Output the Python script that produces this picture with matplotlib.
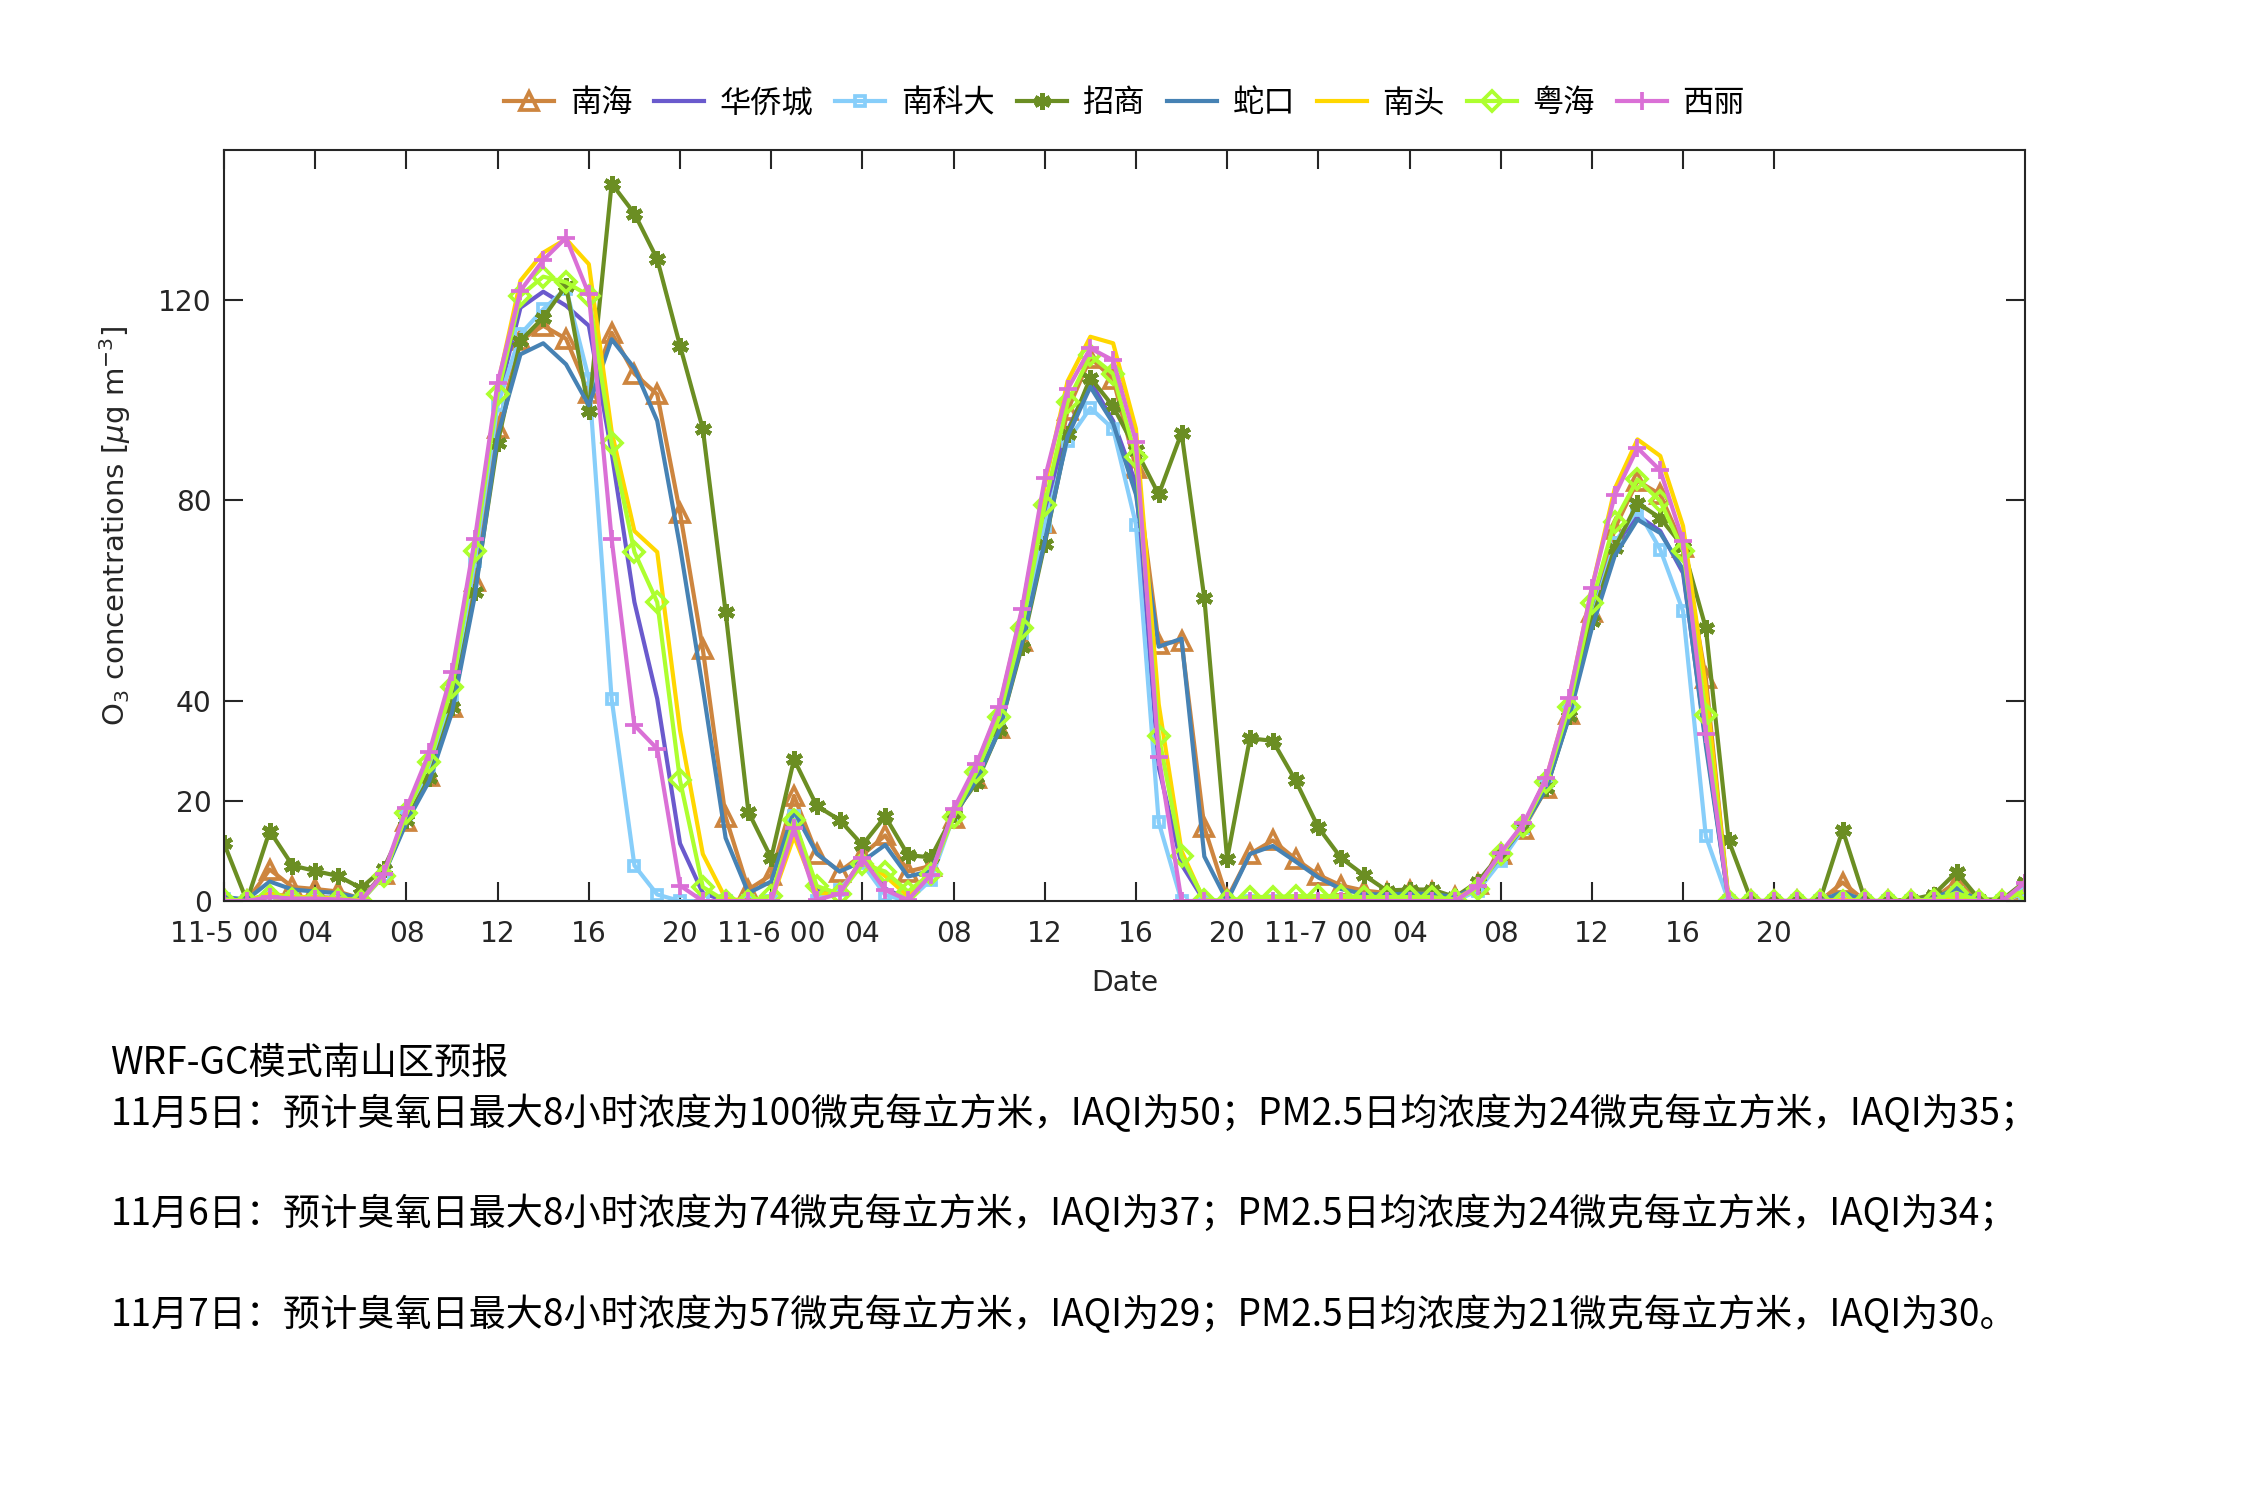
import matplotlib
matplotlib.use('Agg')
import matplotlib.pyplot as plt
import numpy as np

plt.rcParams['font.family'] = ['DejaVu Sans', 'Noto Sans CJK SC']
plt.rcParams['mathtext.fontset'] = 'dejavusans'

# hourly O3 forecast, 11-5 00 onwards (80 hours)
hours = np.arange(80)
nanhai = [0.5, 0, 6.3, 2.8, 2.4, 1.9, 0.5, 5.5, 16, 25,
          38.8, 64, 94.5, 112, 114.9, 112.3, 101.5, 113.5, 105.3, 101.2,
          77.6, 50.3, 16.8, 2.3, 5.2, 21, 9.4, 5.9, 9.2, 13.1,
          5.9, 7, 16.5, 24.6, 34.6, 51.9, 75.5, 98, 108.5, 104.3,
          86.5, 51.4, 51.9, 14.7, 0.5, 9.4, 12.1, 8.4, 5.2, 3.1,
          2.1, 1.6, 2.1, 1.9, 0.8, 3.5, 9.4, 14.4, 22.5, 37.4,
          57.7, 74.4, 83.9, 81.2, 70.8, 44.5, 0, 0, 0, 0,
          0, 3.7, 0, 0, 0, 0.5, 3.9, 0, 0, 2.4]
huaqiaocheng = [0.3, 0, 1.5, 0.8, 0.8, 0.6, 0.2, 5.5, 17, 27,
                41, 68, 100, 118.5, 121.7, 118.9, 114.9, 89.6, 59.7, 40.4,
                11.5, 1.6, 0, 0, 0, 16, 2, 1.5, 8.5, 2.5,
                0.3, 5, 17.5, 26, 37, 55, 78, 94, 103.8, 95.9,
                83.3, 26.7, 7.3, 0, 0, 0.3, 0.3, 0.3, 0.3, 0.3,
                0.3, 0.5, 0.5, 0.5, 0.3, 2.5, 9, 15, 23.5, 38,
                58, 71, 77, 73.9, 65.5, 32, 0, 0, 0, 0,
                0, 0.5, 0, 0, 0, 0.3, 1, 0, 0, 2]
nankeda = [0.5, 0, 0.8, 0.5, 0.5, 0.3, 0, 5, 17, 26,
           41, 68, 99, 113.2, 118.2, 122.3, 104.3, 40.4, 7.1, 1.3,
           0, 0, 0, 0, 0, 16.9, 0, 2.3, 7.5, 1.2,
           0, 4.2, 17, 25.5, 36, 53.5, 75, 91.9, 98.5, 94.3,
           75.2, 15.7, 0, 0, 0, 0, 0, 0, 0, 0,
           0, 0, 0, 0, 0, 2.1, 7.9, 14.5, 23, 38,
           56.5, 71.5, 78.2, 70.2, 57.9, 12.9, 0, 0, 0, 0,
           0, 0, 0, 0, 0, 0, 1.6, 0, 0, 1.6]
zhaoshang = [11.5, 0, 14, 7.1, 6, 5, 2.6, 6.5, 16.2, 24.6,
             38.8, 61.8, 91.5, 111.9, 116.5, 122.9, 97.9, 143.3, 137.3, 128.2,
             110.9, 94.3, 57.7, 17.8, 8.6, 28.3, 19, 16.2, 11.2, 16.9,
             9.2, 8.7, 17.3, 23.6, 34.1, 50.8, 71.3, 93.3, 104.5, 98.8,
             90.1, 81.2, 93.5, 60.5, 8.4, 32.5, 32, 24.1, 14.7, 8.6,
             5.2, 2.1, 2.3, 2.3, 0.8, 3.9, 9.4, 15, 22.5, 36.9,
             56, 70.5, 79.5, 76.5, 70.8, 54.5, 12.1, 0, 0, 0,
             0, 14.2, 0, 0, 0.3, 1.3, 5.8, 0.3, 0.3, 3.9]
shekou = [0.8, 0.3, 3.9, 2.3, 1.9, 1.6, 0.5, 5.2, 15.7, 24,
          37.7, 61, 93, 109.2, 111.4, 107.2, 99, 112.2, 106.4, 95.9,
          70.8, 42.5, 12.6, 1.6, 3.9, 18, 9.5, 5.9, 7.9, 11.2,
          4.9, 6, 17, 24.1, 34, 51.5, 71.8, 92.8, 102.7, 95.4,
          81.2, 50.8, 52.4, 8.9, 0, 9.4, 11, 7.9, 4.7, 2.4,
          1.4, 1.3, 1.5, 1.4, 0.8, 3, 9, 14.8, 22.5, 36.7,
          54.5, 68.9, 76.2, 73.5, 66.2, 31, 0, 0, 0, 0,
          0, 1.8, 0, 0, 0, 0.5, 2.6, 0, 0, 2]
nantou = [0.3, 0, 1.5, 0.8, 0.8, 0.5, 0.2, 5.3, 17.5, 28,
          44, 70, 103, 123.9, 129.5, 132.2, 127.2, 93.8, 73.9, 69.7,
          34.1, 9.4, 0.5, 0, 0, 12.9, 1.6, 1.5, 8.5, 5,
          1, 5.2, 17.8, 27, 38.5, 58, 83, 103.8, 112.7, 111.4,
          94.3, 39.3, 10, 0, 0, 0.3, 0.3, 0.3, 0.3, 0.3,
          0.3, 0.5, 0.5, 0.5, 0.3, 3, 9.4, 15, 24.5, 40.5,
          62.5, 82.3, 92.2, 88.9, 74.9, 42.5, 0, 0, 0, 0,
          0, 0.3, 0, 0, 0, 0.3, 1, 0, 0, 2]
yuehai = [0.3, 0, 1, 0.5, 0.5, 0.3, 0, 5, 17.5, 27.8,
          42.7, 69.9, 101.2, 120.9, 124.7, 123.6, 120.9, 91.5, 69.7, 59.7,
          24.1, 2.8, 0, 0, 1, 16.2, 3, 1.4, 7.4, 5.9,
          1.9, 5.5, 16.8, 25.7, 36.7, 54.5, 79.1, 99.6, 109, 105.3,
          88.6, 33, 8.9, 0.3, 0, 0.8, 0.8, 1, 1, 1,
          0.8, 0.8, 0.8, 0.8, 0.3, 2.5, 9.4, 15, 23.8, 38.8,
          59.5, 75.8, 84.2, 79.9, 70, 37.2, 0, 0, 0, 0,
          0, 0, 0, 0, 0, 0.3, 1.6, 0, 0, 2.1]
xili = [0, 0, 0.8, 0.5, 0.5, 0.3, 0, 5.5, 18.5, 29.7,
        45.8, 72.3, 103.5, 121.9, 128, 132.5, 121.2, 72.3, 35.1, 30.4,
        3.1, 0, 0, 0, 0, 14.5, 0.2, 1.5, 8.5, 2.2,
        0.2, 5.2, 18.3, 27.3, 38.8, 58.4, 84.4, 102.2, 110.4, 108,
        91.7, 28.8, 0, 0, 0, 0, 0, 0, 0, 0,
        0, 0, 0, 0, 0, 3.1, 9.6, 15.5, 24.6, 40.6,
        62.6, 81, 90.5, 86, 71.9, 33.3, 0, 0, 0, 0,
        0, 0, 0, 0, 0, 0, 0, 0, 0, 3.7]

site_names = ['南海', '华侨城', '南科大', '招商', '蛇口', '南头', '粤海', '西丽']
tick_hours = np.arange(0, 69, 4)
tick_labels = ['11-5 00', '04', '08', '12', '16', '20',
               '11-6 00', '04', '08', '12', '16', '20',
               '11-7 00', '04', '08', '12', '16', '20']
notes = ['WRF-GC模式南山区预报',
         '11月5日：预计臭氧日最大8小时浓度为100微克每立方米，IAQI为50；PM2.5日均浓度为24微克每立方米，IAQI为35；',
         '11月6日：预计臭氧日最大8小时浓度为74微克每立方米，IAQI为37；PM2.5日均浓度为24微克每立方米，IAQI为34；',
         '11月7日：预计臭氧日最大8小时浓度为57微克每立方米，IAQI为29；PM2.5日均浓度为21微克每立方米，IAQI为30。']

fig = plt.figure(figsize=(15, 10), dpi=150)
ax = fig.add_axes([0.0996, 0.3993, 0.8004, 0.5007])

lw = 2.0
ax.plot(hours, nanhai, color='#CD853F', lw=lw, marker='^', ms=9, mfc='none', mew=1.8, label=site_names[0])
ax.plot(hours, huaqiaocheng, color='#6A5ACD', lw=lw, label=site_names[1])
ax.plot(hours, nankeda, color='#87CEFA', lw=lw, marker='s', ms=5, mfc='none', mew=1.8, label=site_names[2])
ax.plot(hours, zhaoshang, color='#6B8E23', lw=lw, marker=(6, 2, 0), ms=8, mew=2.2, label=site_names[3])
ax.plot(hours, shekou, color='#4682B4', lw=lw, label=site_names[4])
ax.plot(hours, nantou, color='#FFD700', lw=lw, label=site_names[5])
ax.plot(hours, yuehai, color='#ADFF2F', lw=lw, marker='D', ms=6.5, mfc='none', mew=1.8, label=site_names[6])
ax.plot(hours, xili, color='#DA70D6', lw=lw, marker='+', ms=9, mew=1.8, label=site_names[7])

ax.set_xlim(0, 79)
ax.set_ylim(0, 150)
ax.set_xticks(tick_hours)
ax.set_xticklabels(tick_labels)
ax.set_yticks([0, 20, 40, 80, 120])
ax.tick_params(direction='in', length=9, width=1, colors='#262626', labelsize=13.5,
               top=True, right=True)
ax.tick_params(axis='x', pad=9)
ax.tick_params(axis='y', pad=6)
for s in ax.spines.values():
    s.set_color('#262626')
    s.set_linewidth(1)

ax.set_xlabel('Date', fontsize=13.5, color='#262626', labelpad=10)
ax.set_ylabel(r'O$_3$ concentrations [$\mu$g m$^{-3}$]', fontsize=14, color='#262626', labelpad=12)

leg = ax.legend(loc='center', bbox_to_anchor=(0.5, 1.062), ncol=8, frameon=False,
                prop={'family': ['Noto Sans CJK SC', 'DejaVu Sans'], 'size': 15},
                handlelength=1.6, handletextpad=0.5, columnspacing=0.7)

ys = [0.2913, 0.2567, 0.19, 0.1227]
for t, y in zip(notes, ys):
    fig.text(0.049, y, t, fontsize=17.8, va='center', ha='left', color='black',
             family=['Noto Sans CJK SC', 'DejaVu Sans'])

fig.savefig('out.png', dpi=150)
